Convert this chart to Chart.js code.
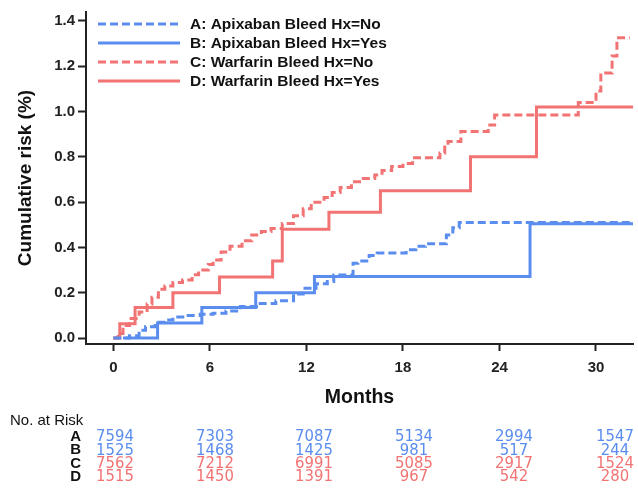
<!DOCTYPE html>
<html>
<head>
<meta charset="utf-8">
<script src="https://cdn.jsdelivr.net/npm/chart.js@4.4.0/dist/chart.umd.min.js"></script>
<style>
  html, body { margin: 0; padding: 0; background: #fff; }
  #chart { display: block; }
</style>
</head>
<body>
<canvas id="chart" width="638" height="489"></canvas>
<script>
// step points: month where the curve jumps, and the new cumulative risk (%)
const aMonths = [0, 1.0, 1.6, 2.0, 2.6, 3.2, 3.7, 4.5, 5.4, 6.2, 7.0, 7.9, 8.9, 10.1, 11.2, 11.8, 12.6, 13.3, 13.7, 14.9, 15.2, 15.9, 16.4, 18.2, 18.8, 19.4, 20.7, 21.1, 21.5, 32.3];
const aRisk   = [0, 0.01, 0.035, 0.05, 0.07, 0.08, 0.093, 0.1, 0.105, 0.11, 0.12, 0.14, 0.153, 0.165, 0.195, 0.22, 0.24, 0.25, 0.278, 0.33, 0.34, 0.365, 0.375, 0.39, 0.405, 0.416, 0.455, 0.487, 0.51, 0.51];

const bMonths = [0.6, 2.75, 5.5, 8.85, 12.5, 25.9, 32.3];
const bRisk   = [0, 0.067, 0.135, 0.2, 0.272, 0.505, 0.505];

const cMonths = [0, 0.3, 0.6, 1.0, 1.6, 2.1, 2.4, 2.8, 3.2, 3.7, 4.3, 4.9, 5.3, 5.9, 6.2, 6.7, 7.25, 8.0, 8.6, 9.2, 9.8, 10.5, 11.2, 11.8, 12.3, 13.1, 13.6, 14.1, 14.8, 15.4, 16.25, 16.7, 17.3, 18.0, 18.6, 20.3, 20.6, 20.8, 21.6, 23.3, 23.7, 28.9, 30.0, 30.3, 31.0, 31.3, 32.1];
const cRisk   = [0, 0.02, 0.056, 0.087, 0.115, 0.15, 0.18, 0.216, 0.23, 0.245, 0.256, 0.28, 0.30, 0.325, 0.345, 0.38, 0.405, 0.43, 0.455, 0.47, 0.484, 0.506, 0.54, 0.571, 0.6, 0.62, 0.643, 0.665, 0.69, 0.704, 0.72, 0.74, 0.757, 0.77, 0.796, 0.817, 0.853, 0.868, 0.912, 0.94, 0.984, 1.04, 1.09, 1.17, 1.245, 1.325, 1.325];

const dMonths = [0, 0.4, 1.35, 3.7, 6.6, 9.9, 10.5, 13.4, 16.6, 22.2, 26.3, 32.3];
const dRisk   = [0, 0.063, 0.135, 0.2, 0.27, 0.34, 0.48, 0.555, 0.65, 0.80, 1.02, 1.02];

const seriesNames = ["A: Apixaban Bleed Hx=No", "B: Apixaban Bleed Hx=Yes", "C: Warfarin Bleed Hx=No", "D: Warfarin Bleed Hx=Yes"];
const xTicks = [0, 6, 12, 18, 24, 30];
const yTicks = [0, 0.2, 0.4, 0.6, 0.8, 1.0, 1.2, 1.4];

// number at risk table
const riskRows = ["A", "B", "C", "D"];
const riskA = [7594, 7303, 7087, 5134, 2994, 1547];
const riskB = [1525, 1468, 1425, 981, 517, 244];
const riskC = [7562, 7212, 6991, 5085, 2917, 1524];
const riskD = [1515, 1450, 1391, 967, 542, 280];

const BLUE = "#5b8def";
const RED = "#f27373";
const FONT = "'Liberation Sans', Arial, sans-serif";

function toPoints(months, risk) {
  return months.map((m, i) => ({ x: m, y: risk[i] }));
}

function lineSet(label, months, risk, color, dashed) {
  return {
    label: label,
    data: toPoints(months, risk),
    borderColor: color,
    backgroundColor: color,
    borderWidth: 3,
    borderDash: dashed ? [8, 4] : [],
    stepped: "before",
    pointRadius: 0,
    fill: false
  };
}

const insideLegend = {
  id: "insideLegend",
  afterDatasetsDraw(chart) {
    const ctx = chart.ctx;
    ctx.save();
    ctx.font = "bold 15.5px " + FONT;
    ctx.textBaseline = "middle";
    chart.data.datasets.forEach((ds, i) => {
      const y = 24 + i * 19;
      ctx.strokeStyle = ds.borderColor;
      ctx.lineWidth = 3;
      ctx.setLineDash(ds.borderDash);
      ctx.beginPath();
      ctx.moveTo(98, y);
      ctx.lineTo(180, y);
      ctx.stroke();
      ctx.setLineDash([]);
      ctx.fillStyle = "#111";
      ctx.fillText(ds.label, 190, y + 1);
    });
    ctx.restore();
  }
};

const riskTable = {
  id: "riskTable",
  afterDraw(chart) {
    const ctx = chart.ctx;
    const rows = [riskA, riskB, riskC, riskD];
    const colors = [BLUE, BLUE, RED, RED];
    const colX = [115, 215, 314, 414, 514, 615];
    ctx.save();
    ctx.textBaseline = "middle";
    ctx.fillStyle = "#111";
    ctx.font = "15px " + FONT;
    ctx.textAlign = "left";
    ctx.fillText("No. at Risk", 10, 421);
    rows.forEach((vals, r) => {
      const y = 437 + r * 13.3;
      ctx.font = "bold 15px " + FONT;
      ctx.fillStyle = "#111";
      ctx.textAlign = "right";
      ctx.fillText(riskRows[r], 81, y);
      ctx.font = "16.5px 'Liberation Sans Narrow', 'Arial Narrow', 'DejaVu Sans Condensed', sans-serif";
      ctx.fillStyle = colors[r];
      ctx.textAlign = "center";
      vals.forEach((v, i) => ctx.fillText(String(v), colX[i], y));
    });
    ctx.restore();
  }
};

new Chart(document.getElementById("chart"), {
  type: "line",
  data: {
    datasets: [
      lineSet(seriesNames[0], aMonths, aRisk, BLUE, true),
      lineSet(seriesNames[1], bMonths, bRisk, BLUE, false),
      lineSet(seriesNames[2], cMonths, cRisk, RED, true),
      lineSet(seriesNames[3], dMonths, dRisk, RED, false)
    ]
  },
  options: {
    responsive: false,
    animation: false,
    devicePixelRatio: 1,
    layout: { padding: { top: 7, right: 5, left: 0, bottom: 79 } },
    plugins: {
      legend: { display: false },
      tooltip: { enabled: false }
    },
    scales: {
      x: {
        type: "linear",
        min: -1.7,
        max: 32.3,
        afterBuildTicks(scale) { scale.ticks = xTicks.map(v => ({ value: v })); },
        afterFit(scale) { scale.height = 66; },
        grid: { drawOnChartArea: false, drawTicks: true, tickLength: 7, tickWidth: 2, color: "#222" },
        border: { display: true, color: "#222", width: 2 },
        ticks: {
          padding: 8,
          color: "#222",
          font: { family: FONT, size: 15, weight: "bold" },
          maxRotation: 0
        },
        title: {
          display: true,
          text: "Months",
          color: "#111",
          padding: { top: 0, bottom: 1 },
          font: { family: FONT, size: 19.5, weight: "bold" }
        }
      },
      y: {
        min: -0.026,
        max: 1.439,
        afterBuildTicks(scale) { scale.ticks = yTicks.map(v => ({ value: v })); },
        afterFit(scale) { scale.width = 86; },
        grid: { drawOnChartArea: false, drawTicks: true, tickLength: 8, tickWidth: 2, color: "#222" },
        border: { display: true, color: "#222", width: 2 },
        ticks: {
          padding: 3,
          color: "#222",
          font: { family: FONT, size: 15, weight: "bold" },
          callback: v => v.toFixed(1)
        },
        title: {
          display: true,
          text: "Cumulative risk (%)",
          color: "#111",
          padding: { top: 14, bottom: 0 },
          font: { family: FONT, size: 19, weight: "bold" }
        }
      }
    }
  },
  plugins: [insideLegend, riskTable]
});
</script>
</body>
</html>
